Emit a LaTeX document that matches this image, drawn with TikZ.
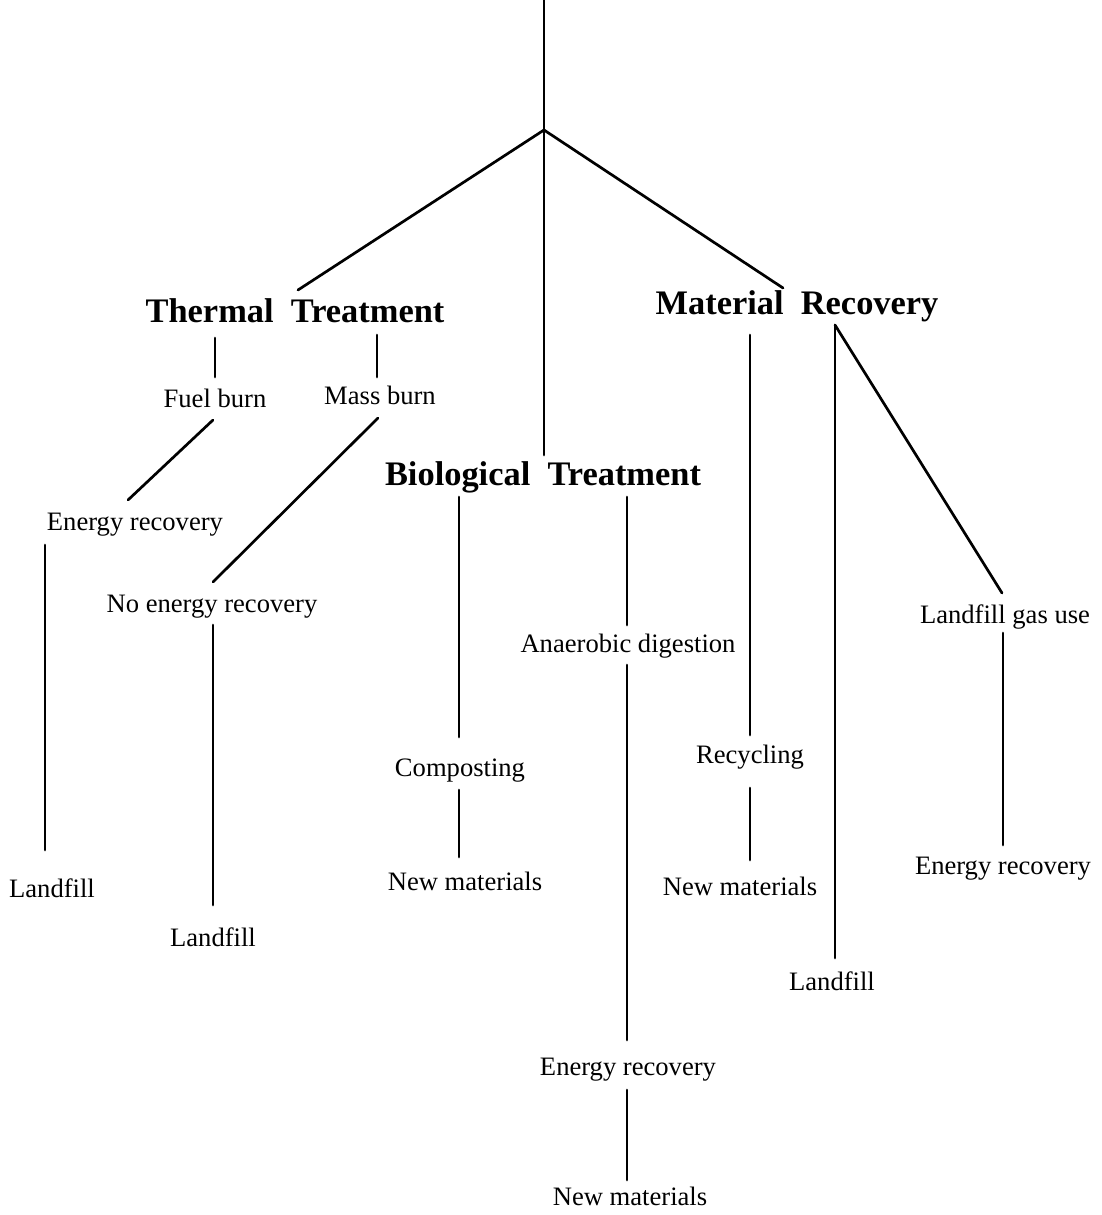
\documentclass[tikz,border=0pt]{standalone}
\usepackage{fontspec}
\setmainfont{Liberation Serif}
\begin{document}
\begin{tikzpicture}[x=0.5pt,y=-0.5pt,
  lbl/.style={anchor=base,inner sep=0pt,font=\fontsize{13.3}{15}\selectfont},
  head/.style={anchor=base,inner sep=0pt,font=\fontsize{17.2}{20}\selectfont\bfseries},
  conn/.style={line width=1.35pt,line cap=round}]
\useasboundingbox (0,0) rectangle (1102,1215);
% headings
\node[head] (thermal) at (295,322) {Thermal~~Treatment};
\node[head] (material) at (797,314) {Material~~Recovery};
\node[head] (bio) at (543,485) {Biological~~Treatment};
% labels
\node[lbl] (fuel) at (215,407) {Fuel burn};
\node[lbl] (mass) at (380,404) {Mass burn};
\node[lbl] (er1) at (135,530) {Energy recovery};
\node[lbl] (ner) at (212,612) {No energy recovery};
\node[lbl] (lf1) at (52,897) {Landfill};
\node[lbl] (lf2) at (213,946) {Landfill};
\node[lbl] (comp) at (460,776) {Composting};
\node[lbl] (nm1) at (465,890) {New materials};
\node[lbl] (ad) at (628,652) {Anaerobic digestion};
\node[lbl] (er2) at (628,1075) {Energy recovery};
\node[lbl] (nm2) at (630,1205) {New materials};
\node[lbl] (rec) at (750,763) {Recycling};
\node[lbl] (nm3) at (740,895) {New materials};
\node[lbl] (lf3) at (832,990) {Landfill};
\node[lbl] (lgu) at (1005,623) {Landfill gas use};
\node[lbl] (er3) at (1003,874) {Energy recovery};
% connector end points
\coordinate (top) at (544,0);
\coordinate (apex) at (544,130);
\coordinate (bioT) at (544,455);
\coordinate (thT) at (298,290);
\coordinate (mrT) at (783,288);
\coordinate (thA) at (215,338); \coordinate (fuT) at (215,377);
\coordinate (thB) at (377,335); \coordinate (maT) at (377,377);
\coordinate (fuB) at (213,420); \coordinate (er1T) at (128,500);
\coordinate (maB) at (378,418); \coordinate (nerT) at (213,582);
\coordinate (er1B) at (45,545); \coordinate (lf1T) at (45,850);
\coordinate (nerB) at (213,625); \coordinate (lf2T) at (213,905);
\coordinate (bioA) at (459,497); \coordinate (compT) at (459,737);
\coordinate (compB) at (459,790); \coordinate (nm1T) at (459,857);
\coordinate (bioB) at (627,497); \coordinate (adT) at (627,625);
\coordinate (adB) at (627,665); \coordinate (er2T) at (627,1040);
\coordinate (er2B) at (627,1090); \coordinate (nm2T) at (627,1180);
\coordinate (mrA) at (750,335); \coordinate (recT) at (750,735);
\coordinate (recB) at (750,788); \coordinate (nm3T) at (750,860);
\coordinate (mrB) at (835,325); \coordinate (lf3T) at (835,958);
\coordinate (lguT) at (1002,593);
\coordinate (lguB) at (1003,633); \coordinate (er3T) at (1003,845);
% connectors
\draw[conn] (top) -- (apex) -- (bioT);
\draw[conn] (apex) -- (thT);
\draw[conn] (apex) -- (mrT);
\draw[conn] (thA) -- (fuT);
\draw[conn] (thB) -- (maT);
\draw[conn] (fuB) -- (er1T);
\draw[conn] (maB) -- (nerT);
\draw[conn] (er1B) -- (lf1T);
\draw[conn] (nerB) -- (lf2T);
\draw[conn] (bioA) -- (compT);
\draw[conn] (compB) -- (nm1T);
\draw[conn] (bioB) -- (adT);
\draw[conn] (adB) -- (er2T);
\draw[conn] (er2B) -- (nm2T);
\draw[conn] (mrA) -- (recT);
\draw[conn] (recB) -- (nm3T);
\draw[conn] (mrB) -- (lf3T);
\draw[conn] (mrB) -- (lguT);
\draw[conn] (lguB) -- (er3T);
\end{tikzpicture}
\end{document}
